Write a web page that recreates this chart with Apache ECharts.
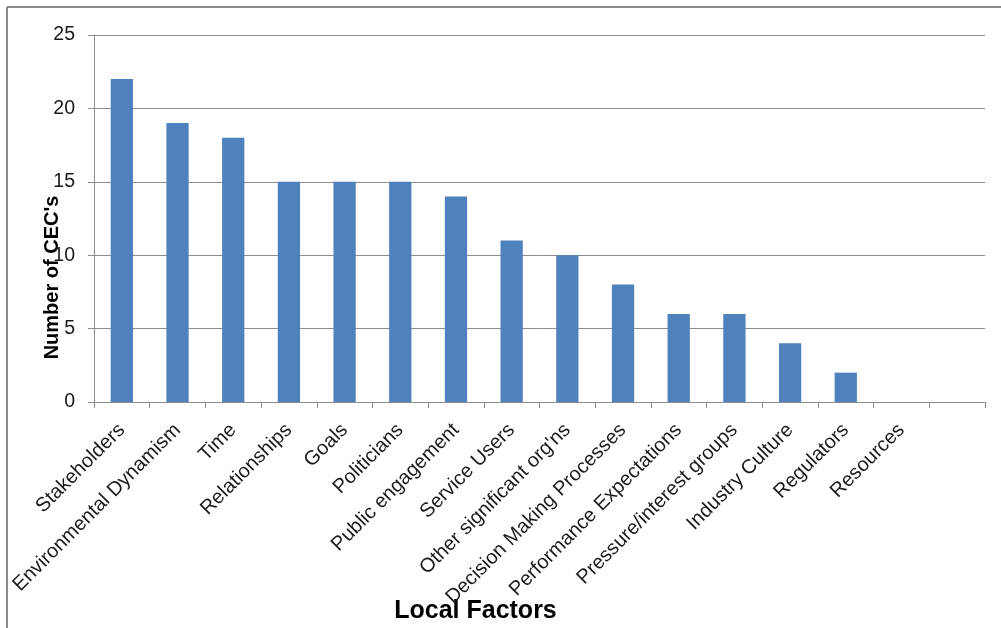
<!DOCTYPE html>
<html>
<head>
<meta charset="utf-8">
<script src="https://cdn.jsdelivr.net/npm/echarts@6/dist/echarts.min.js"></script>
<style>
  html, body { margin: 0; padding: 0; background: #ffffff; }
  #chart { width: 1001px; height: 628px; }
</style>
</head>
<body>
<div id="chart"></div>
<script>
// Local factors cited by CEOs
const factors = [
  'Stakeholders', 'Environmental Dynamism', 'Time', 'Relationships', 'Goals',
  'Politicians', 'Public engagement', 'Service Users', "Other significant org'ns",
  'Decision Making Processes', 'Performance Expectations', 'Pressure/interest groups',
  'Industry Culture', 'Regulators', 'Resources', ''
];
const ceoCounts = [22, 19, 18, 15, 15, 15, 14, 11, 10, 8, 6, 6, 4, 2, 0, null];
const yTicks = { min: 0, max: 25, step: 5 };

const chart = echarts.init(document.getElementById('chart'), null, { renderer: 'canvas' });
const fontFamily = '"Liberation Sans", Arial, sans-serif';
const axisGray = '#8c8c8c';

chart.setOption({
  animation: false,
  backgroundColor: '#ffffff',
  grid: { left: 94, right: 16, top: 35, bottom: 226, containLabel: false, outerBoundsMode: 'none' },
  graphic: [
    { type: 'line', shape: { x1: 7, y1: 7, x2: 1001, y2: 7 }, style: { stroke: '#8a8a8a', lineWidth: 2 } },
    { type: 'line', shape: { x1: 7, y1: 7, x2: 7, y2: 628 }, style: { stroke: '#8a8a8a', lineWidth: 2 } }
  ],
  xAxis: {
    type: 'category',
    data: factors,
    boundaryGap: true,
    name: 'Local Factors',
    nameLocation: 'middle',
    nameGap: 197,
    nameMoveOverlap: false,
    nameTextStyle: { fontFamily, fontSize: 25, fontWeight: 'bold', color: '#000', padding: [0, 128, 0, 0] },
    axisLine: { lineStyle: { color: axisGray, width: 1 } },
    axisTick: { show: true, length: 6, alignWithLabel: false, lineStyle: { color: axisGray } },
    axisLabel: {
      interval: 0, rotate: 45, margin: 25,
      fontFamily, fontSize: 20, color: '#1a1a1a'
    },
    splitLine: { show: false }
  },
  yAxis: {
    type: 'value',
    min: yTicks.min, max: yTicks.max, interval: yTicks.step,
    name: "Number of CEC's",
    nameLocation: 'middle',
    nameGap: 32,
    nameRotate: 90,
    nameMoveOverlap: false,
    nameTextStyle: { fontFamily, fontSize: 20, fontWeight: 'bold', color: '#000', padding: [0, 118, 0, 0] },
    axisLine: { show: true, lineStyle: { color: axisGray, width: 1 } },
    axisTick: { show: true, length: 6, lineStyle: { color: axisGray } },
    axisLabel: { margin: 19, fontFamily, fontSize: 19.5, color: '#1a1a1a' },
    splitLine: { show: true, lineStyle: { color: axisGray, width: 1 } }
  },
  series: [{
    type: 'bar',
    data: ceoCounts,
    barWidth: '40%',
    itemStyle: { color: '#4F81BD' }
  }]
});
</script>
</body>
</html>
